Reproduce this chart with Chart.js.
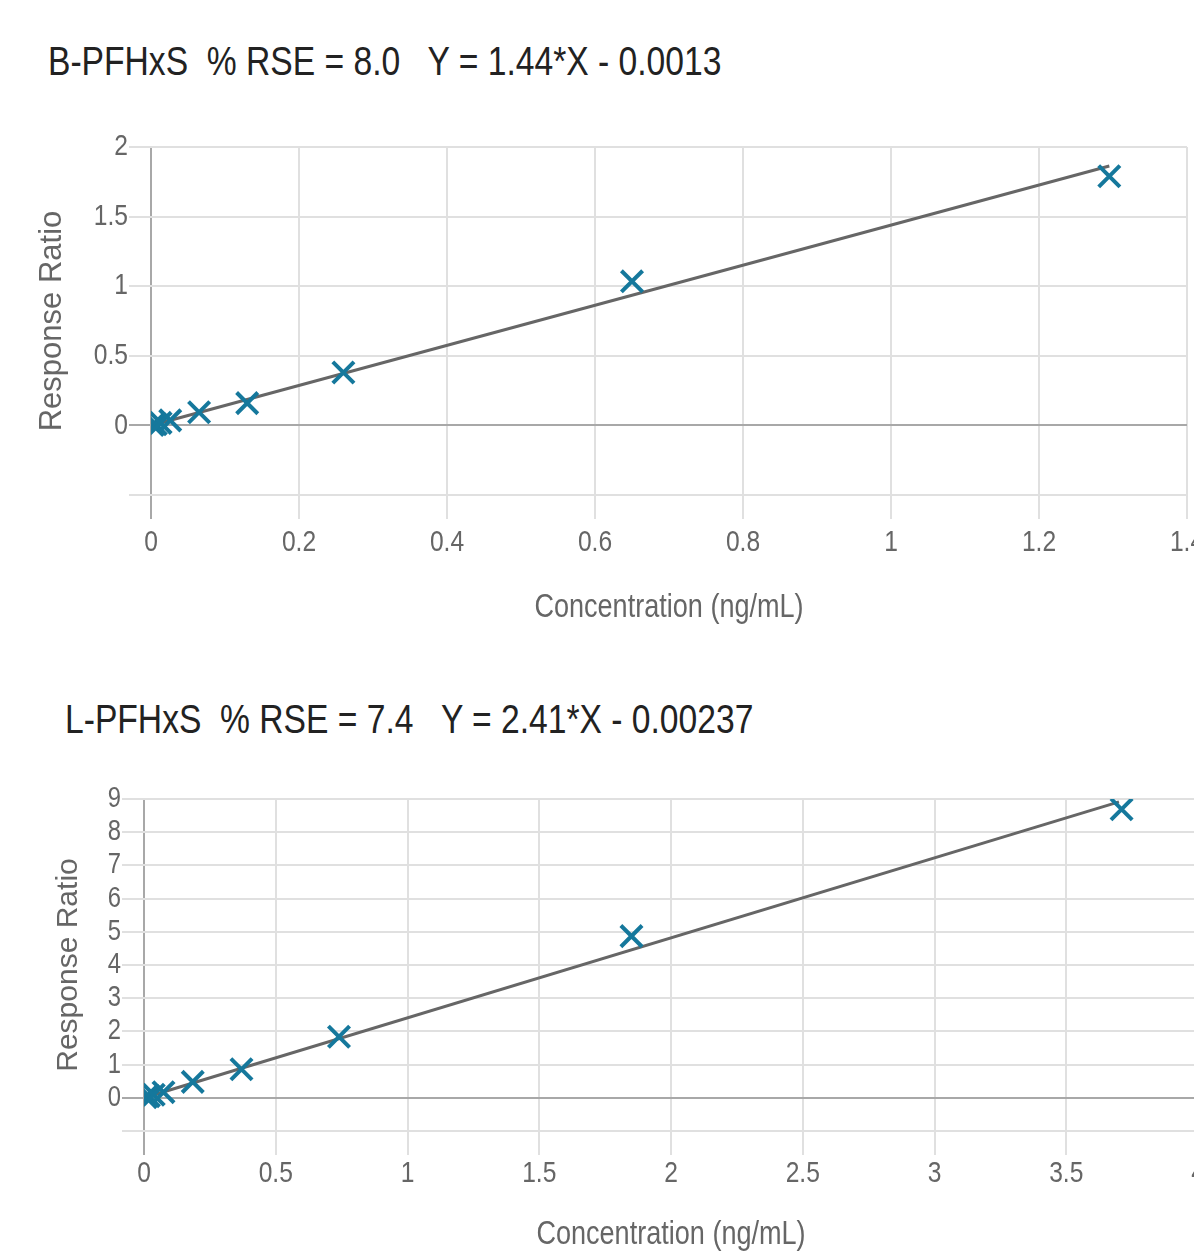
<!DOCTYPE html>
<html lang="en">
<head>
<meta charset="UTF-8">
<title>PFHxS calibration curves</title>
<script src="https://cdn.jsdelivr.net/npm/chart.js"></script>
<style>
  html, body { margin: 0; padding: 0; background: #fff; overflow: hidden; }
  body { width: 1194px; height: 1252px; position: relative; font-family: "Liberation Sans", Arial, sans-serif; }
  .title { position: absolute; font-size: 41px; line-height: 41px; color: #222; white-space: pre;
           transform: scaleX(0.82); transform-origin: 0 0; }
  canvas { position: absolute; left: 0; }
</style>
</head>
<body>

<div class="title" style="left:48px; top:41px">B-PFHxS  % RSE = 8.0   Y = 1.44*X - 0.0013</div>
<canvas id="chartB" width="1217" height="540" style="top:100px"></canvas>

<div class="title" style="left:65px; top:699px">L-PFHxS  % RSE = 7.4   Y = 2.41*X - 0.00237</div>
<canvas id="chartL" width="1220" height="506" style="top:750px"></canvas>

<script>
  // B-PFHxS calibration points
  const bConc  = [0.0026, 0.0065, 0.013, 0.026, 0.065, 0.13, 0.26, 0.65, 1.295];
  const bRatio = [0.003, 0.008, 0.018, 0.036, 0.094, 0.16, 0.38, 1.035, 1.79];
  // fitted line ends
  const bFitX = [0.0026, 1.295];
  const bFitY = [0.0024, 1.863];

  // L-PFHxS calibration points
  const lConc  = [0.0074, 0.0185, 0.037, 0.074, 0.185, 0.37, 0.74, 1.85, 3.71];
  const lRatio = [0.02, 0.05, 0.09, 0.17, 0.48, 0.86, 1.84, 4.87, 8.69];
  const lFitX = [0.0074, 3.70];
  const lFitY = [0.0155, 8.915];

  const X_TITLE = 'Concentration (ng/mL)';
  const Y_TITLE = 'Response Ratio';

  const TEAL = '#15789c';
  const GRID = '#e0e0e0';
  const ZERO = '#a8a8a8';
  const TICK = '#666';
  const NARROW = 0.82; // the source used a condensed face for horizontal text

  Chart.defaults.font.family = '"Liberation Sans", Arial, sans-serif';
  Chart.defaults.color = TICK;

  // squeeze horizontal text like a narrow font; rotated axis title stays as is
  const narrowText = {
    id: 'narrowText',
    beforeDraw(chart) {
      const ctx = chart.ctx;
      if (ctx._narrow) return;
      ctx._narrow = true;
      const fill = ctx.fillText;
      ctx.fillText = function (text, x, y, maxWidth) {
        if (Math.abs(this.getTransform().b) > 0.01) return fill.call(this, text, x, y, maxWidth);
        let w = this.measureText(text).width * NARROW;
        if (maxWidth !== undefined && maxWidth < w) w = maxWidth;
        return fill.call(this, text, x, y, w);
      };
    }
  };

  function pts(xs, ys) {
    return xs.map((x, i) => ({ x: x, y: ys[i] }));
  }

  const fmt = v => String(Math.round(v * 100) / 100);

  function makeChart(id, o) {
    const gridColor = ctx => (ctx.tick && ctx.tick.value === 0 ? ZERO : GRID);
    return new Chart(document.getElementById(id), {
      type: 'scatter',
      plugins: [narrowText],
      data: {
        datasets: [
          {
            data: pts(o.x, o.y),
            pointStyle: 'crossRot',
            pointRadius: 15,
            pointHoverRadius: 15,
            pointBorderWidth: 4,
            borderColor: TEAL,
            backgroundColor: TEAL
          },
          {
            data: pts(o.fitX, o.fitY),
            showLine: true,
            borderColor: '#666',
            borderWidth: 3,
            pointRadius: 0
          }
        ]
      },
      options: {
        responsive: false,
        animation: false,
        layout: { padding: { top: o.padTop, right: o.padRight, left: 0, bottom: 0 } },
        plugins: { legend: { display: false }, tooltip: { enabled: false } },
        scales: {
          x: {
            type: 'linear',
            min: 0,
            max: o.xMax,
            border: { display: false },
            grid: { color: gridColor, lineWidth: 2, tickLength: 24 },
            ticks: { stepSize: o.xStep, padding: o.xTickPad, maxRotation: 0, autoSkip: false,
                     font: { size: 30 }, callback: fmt },
            title: {
              display: true,
              text: X_TITLE,
              color: TICK,
              font: { size: 33 },
              padding: { top: 0, bottom: o.xTitlePad }
            },
            afterFit: s => { s.height = o.xAxisH; }
          },
          y: {
            min: o.yMin,
            max: o.yMax,
            border: { display: false },
            grid: { color: gridColor, lineWidth: 2, tickLength: 22 },
            ticks: {
              stepSize: o.yStep,
              padding: 1,
              autoSkip: false,
              font: { size: o.yTickSize },
              callback: v => (v === o.yMin ? '' : fmt(v))
            },
            title: {
              display: true,
              text: Y_TITLE,
              color: TICK,
              font: { size: o.yTitleSize },
              padding: { top: o.yTitlePad, bottom: 0 }
            },
            afterFit: s => { s.width = o.yAxisW; }
          }
        }
      }
    });
  }

  makeChart('chartB', {
    x: bConc, y: bRatio, fitX: bFitX, fitY: bFitY,
    xMax: 1.4, xStep: 0.2, yMin: -0.5, yMax: 2, yStep: 0.5,
    padTop: 47, padRight: 30, xAxisH: 145, yAxisW: 151,
    xTickPad: 6, xTitlePad: 12, yTitlePad: 34, yTitleSize: 31, yTickSize: 30
  });

  makeChart('chartL', {
    x: lConc, y: lRatio, fitX: lFitX, fitY: lFitY,
    xMax: 4, xStep: 0.5, yMin: -1, yMax: 9, yStep: 1,
    padTop: 49, padRight: 22, xAxisH: 125, yAxisW: 144,
    xTickPad: 1, xTitlePad: 1, yTitlePad: 51, yTitleSize: 30, yTickSize: 29
  });
</script>

</body>
</html>
